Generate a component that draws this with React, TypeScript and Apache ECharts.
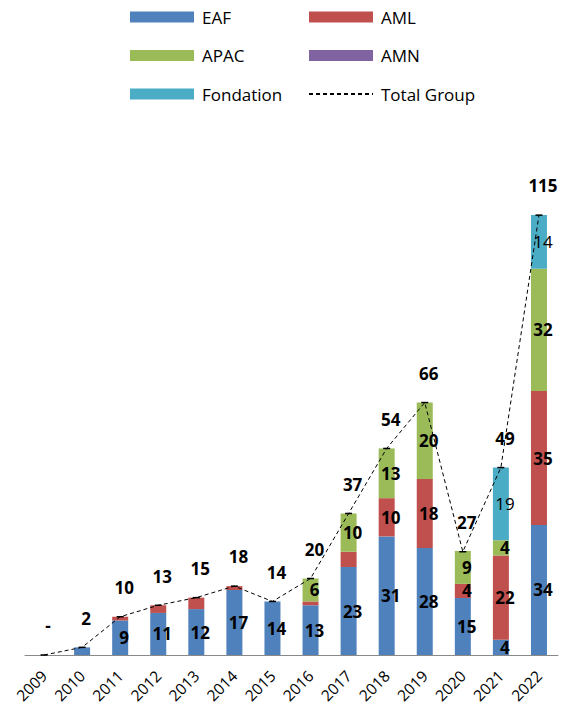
import React, { useEffect, useRef } from "react";
import * as echarts from "echarts";

const years = ["2009", "2010", "2011", "2012", "2013", "2014", "2015", "2016", "2017", "2018", "2019", "2020", "2021", "2022"];
const eaf = [0, 2, 9, 11, 12, 17, 14, 13, 23, 31, 28, 14.9, 4, 34];
const aml = [0, 0, 1, 2, 3, 1, 0, 1, 4, 10, 18, 3.7, 22, 35];
const apac = [0, 0, 0, 0, 0, 0, 0, 6, 10, 13, 20, 8.6, 4, 32];
const amn = [0, 0, 0, 0, 0, 0, 0, 0, 0, 0, 0, 0, 0, 0];
const fondation = [0, 0, 0, 0, 0, 0, 0, 0, 0, 0, 0, 0, 19, 14];
const totalGroup = [0, 2, 10, 13, 15, 18, 14, 20, 37, 54, 66, 27, 49, 115];

// indices whose segment label is not shown in the original
const eafHidden = [1];
const amlHidden = [2, 3, 4, 5, 6, 7, 8];

const FONT = "'Open Sans', 'Liberation Sans', sans-serif";

export default function App() {
  const ref = useRef<HTMLDivElement>(null);
  useEffect(() => {
    document.body.style.margin = "0";
    if (!ref.current) return;
    const chart = echarts.init(ref.current, null, { renderer: "svg" });

    const seg = (name: string, values: number[], color: string, hidden: number[], bold = true) => ({
      name,
      type: "bar",
      stack: "all",
      barWidth: 16,
      itemStyle: { color },
      label: {
        position: "inside",
        offset: [4, 0],
        fontFamily: FONT,
        fontSize: 17,
        fontWeight: bold ? "bold" : "normal",
        color: "#000",
        formatter: (p: any) => String(Math.round(p.value)),
      },
      data: values.map((v, i) => ({ value: v, label: { show: v > 0 && !hidden.includes(i) } })),
    });

    const legendText = { fontFamily: FONT, fontSize: 17, color: "#000", padding: [0, 0, 0, 3] };
    const legendBase = {
      orient: "vertical",
      top: 8.5,
      padding: 0,
      itemGap: 21.5,
      itemWidth: 64,
      itemHeight: 11,
      textStyle: legendText,
    };

    chart.setOption({
      animation: false,
      textStyle: { fontFamily: FONT },
      legend: [
        {
          ...legendBase,
          left: 130,
          data: [
            { name: "EAF", icon: "rect" },
            { name: "APAC", icon: "rect" },
            { name: "Fondation", icon: "rect" },
          ],
        },
        {
          ...legendBase,
          left: 308,
          data: [
            { name: "AML", icon: "rect" },
            { name: "AMN", icon: "rect" },
            { name: "Total Group", itemStyle: { color: "rgba(0,0,0,0)" } },
          ],
        },
      ],
      grid: { left: 25, right: 13, top: 196, bottom: 56, containLabel: false },
      xAxis: {
        type: "category",
        data: years,
        axisLine: { lineStyle: { color: "#898989", width: 1 } },
        axisTick: { length: 6, lineStyle: { color: "#898989" } },
        axisLabel: { rotate: 45, interval: 0, fontFamily: FONT, fontSize: 15.5, color: "#000", margin: 18 },
      },
      yAxis: { type: "value", min: 0, max: 120, show: false, splitLine: { show: false } },
      series: [
        seg("EAF", eaf, "#4F81BD", eafHidden),
        seg("AML", aml, "#C0504D", amlHidden),
        seg("APAC", apac, "#9BBB59", []),
        seg("AMN", amn, "#8064A2", []),
        seg("Fondation", fondation, "#4BACC6", [], false),
        {
          name: "Total Group",
          type: "line",
          z: 5,
          data: totalGroup,
          symbol: "rect",
          symbolSize: [7, 1.5],
          itemStyle: { color: "#000" },
          lineStyle: { color: "#000", width: 1, type: [4, 3] },
          label: {
            show: true,
            position: "top",
            distance: 20,
            offset: [4, 0],
            fontFamily: FONT,
            fontSize: 17,
            fontWeight: "bold",
            color: "#000",
            formatter: (p: any) => (p.value === 0 ? "-" : String(p.value)),
          },
        },
      ],
    });
    return () => chart.dispose();
  }, []);
  return <div ref={ref} style={{ width: 571, height: 711 }} />;
}
